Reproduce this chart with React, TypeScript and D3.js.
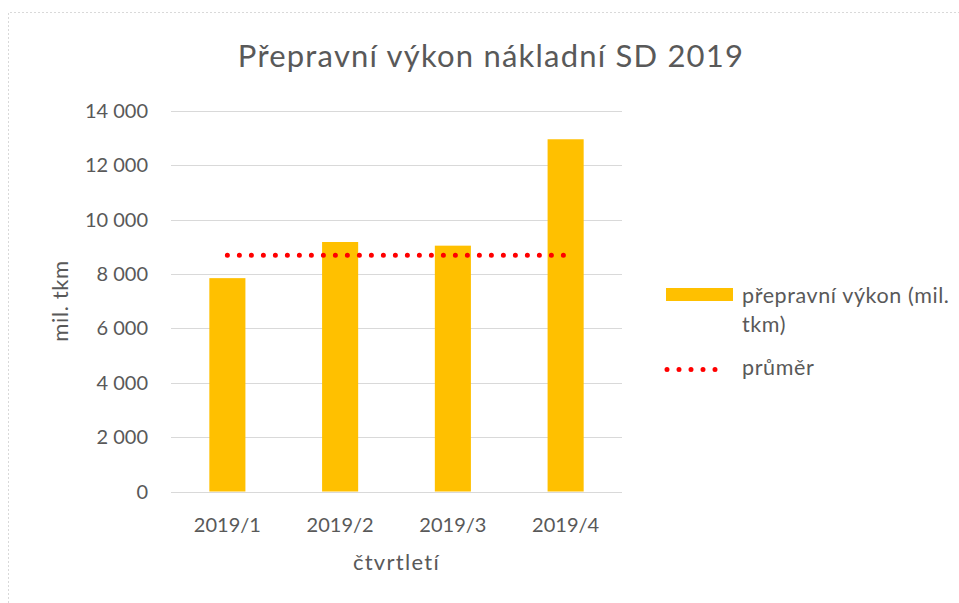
import React from "react";
import * as d3 from "d3";

const categories = ["2019/1", "2019/2", "2019/3", "2019/4"];
const values = [7850, 9180, 9045, 12960];
const averageValue = 8690;
const yTicks = [0, 2000, 4000, 6000, 8000, 10000, 12000, 14000];
const title = "Přepravní výkon nákladní SD 2019";
const xTitle = "čtvrtletí";
const yTitle = "mil. tkm";
const seriesName = ["přepravní výkon (mil.", "tkm)"];
const avgName = "průměr";

const W = 959;
const H = 603;
const FONT = "Lato, 'Open Sans', sans-serif";
const TXT = "#595959";

export default function App() {
  const x = d3.scaleBand<string>().domain(categories).range([171, 622]).paddingInner(0.68).paddingOuter(0.34);
  const y = d3.scaleLinear().domain([0, 14000]).range([491.5, 111]);
  const fmt = (v: number) => d3.format(",")(v).replace(/,/g, " ");
  const cx = (c: string) => (x(c) as number) + x.bandwidth() / 2;

  return (
    <div style={{ position: "absolute", left: 0, top: 0 }}>
      <svg width={W} height={H} style={{ display: "block", background: "#fff" }}>
        <path d={`M8.5,${H} V12.5 H${W}`} fill="none" stroke="#d9d9d9" strokeWidth={1} strokeDasharray="2 2" />
        <text x={491} y={67} textAnchor="middle" fontFamily={FONT} fontSize={31} letterSpacing={1.2} fill={TXT}>{title}</text>
        {yTicks.map((t) => (
          <g key={t}>
            <line x1={171} x2={622} y1={Math.round(y(t)) + 0.5} y2={Math.round(y(t)) + 0.5} stroke="#d9d9d9" strokeWidth={1.2} />
            <text x={148} y={y(t) + 7} textAnchor="end" fontFamily={FONT} fontSize={20} fill={TXT}>{fmt(t)}</text>
          </g>
        ))}
        {categories.map((c, i) => (
          <rect key={c} x={x(c)} width={x.bandwidth()} y={y(values[i])} height={y(0) - y(values[i])} fill="#FFC000" />
        ))}
        <line x1={cx(categories[0])} x2={cx(categories[categories.length - 1])} y1={y(averageValue)} y2={y(averageValue)}
          stroke="#FF0000" strokeWidth={5} strokeLinecap="round" strokeDasharray="0 12" />
        {categories.map((c) => (
          <text key={c} x={cx(c)} y={532} textAnchor="middle" fontFamily={FONT} fontSize={20} fill={TXT}>{c}</text>
        ))}
        <text x={396.5} y={570} textAnchor="middle" fontFamily={FONT} fontSize={22} letterSpacing={1.3} fill={TXT}>{xTitle}</text>
        <text transform={`translate(68,301) rotate(-90)`} textAnchor="middle" fontFamily={FONT} fontSize={22} letterSpacing={0.6} fill={TXT}>{yTitle}</text>
        <rect x={666} y={288} width={67} height={13} fill="#FFC000" />
        <text x={742} y={303} fontFamily={FONT} fontSize={21.5} letterSpacing={0.6} fill={TXT}>{seriesName[0]}</text>
        <text x={742} y={331.5} fontFamily={FONT} fontSize={21.5} letterSpacing={0.6} fill={TXT}>{seriesName[1]}</text>
        <line x1={667} x2={727} y1={369.5} y2={369.5} stroke="#FF0000" strokeWidth={5} strokeLinecap="round" strokeDasharray="0 12" />
        <text x={742} y={375} fontFamily={FONT} fontSize={21.5} letterSpacing={0.6} fill={TXT}>{avgName}</text>
      </svg>
    </div>
  );
}
